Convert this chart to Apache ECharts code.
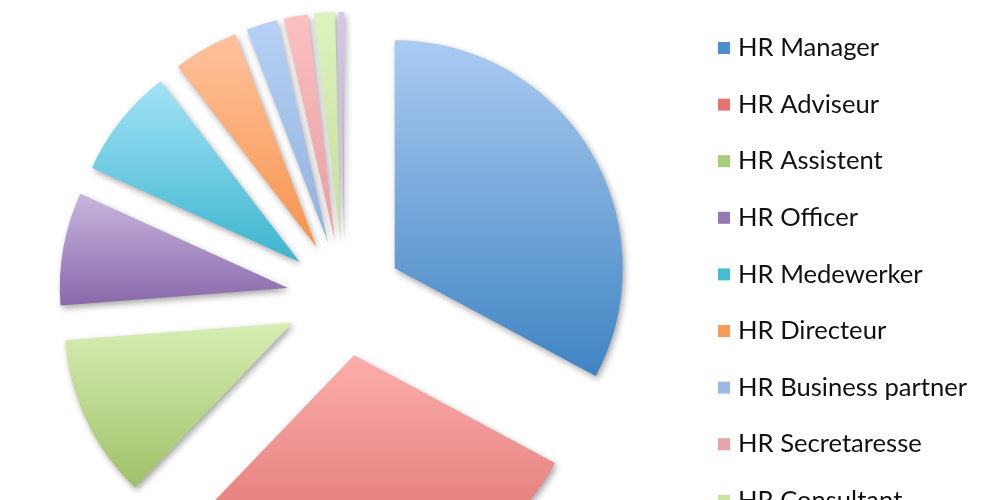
<!DOCTYPE html>
<html>
<head>
<meta charset="utf-8">
<script src="https://cdn.jsdelivr.net/npm/echarts@6/dist/echarts.min.js"></script>
<style>html,body{margin:0;padding:0;background:#fff}#c{width:1000px;height:500px}</style>
</head>
<body>
<div id="c"></div>
<script>
var categories = ['HR Manager','HR Adviseur','HR Assistent','HR Officer','HR Medewerker','HR Directeur','HR Business partner','HR Secretaresse','HR Consultant','HR Overig'];
var values = [32.8, 29.3, 11.6, 8.0, 7.8, 4.6, 2.2, 1.7, 1.5, 0.4];
var topColors = ['#abcbf2','#fbaeac','#d7eeb3','#c7b6de','#a3e3f6','#ffc29d','#b6d1f4','#fcc0c0','#def2be','#d6c9ea'];
var bottomColors = ['#3f84c2','#dd6b69','#a0c169','#8a68aa','#3bb4ce','#f7944c','#90b0de','#e79da1','#c3df9c','#b9a6d6'];
var legendColors = ['#4f8fd0','#e27472','#a8cc78','#9478b6','#45bcd4','#f89a58','#9bbbe6','#eca4a8','#c8e4a4','#bcaad9'];

function grad(i){
  return new echarts.graphic.LinearGradient(0,0,0,1,[{offset:0,color:topColors[i]},{offset:1,color:bottomColors[i]}]);
}
var data = categories.map(function(n,i){
  var s = {color: grad(i), shadowBlur: 6, shadowColor: 'rgba(0,0,0,0.35)', shadowOffsetX: 2, shadowOffsetY: 3, borderWidth: 0};
  return {name:n, value:values[i], selected:true, itemStyle:s, select:{itemStyle:s}};
});
var legendData = categories.map(function(n,i){
  return {name:n, itemStyle:{color:legendColors[i], shadowBlur:0, shadowOffsetX:0, shadowOffsetY:0}};
});
var chart = echarts.init(document.getElementById('c'), null, {renderer:'canvas'});
chart.setOption({
  animation: false,
  backgroundColor: '#fff',
  legend: {
    orient: 'vertical',
    left: 713,
    top: 30,
    height: 2000,
    itemWidth: 12,
    itemHeight: 12,
    itemGap: 30.6,
    icon: 'rect',
    selectedMode: false,
    textStyle: {fontFamily: 'Lato', fontSize: 25.6, color: '#111111', lineHeight: 26, padding:[0,0,0,3]},
    data: legendData
  },
  series: [{
    type: 'pie',
    center: [345, 298],
    radius: 228,
    startAngle: 90,
    clockwise: true,
    selectedMode: 'multiple',
    selectedOffset: 58,
    label: {show:false},
    labelLine: {show:false},
    emphasis: {disabled: true},
    data: data
  }]
});
</script>
</body>
</html>
